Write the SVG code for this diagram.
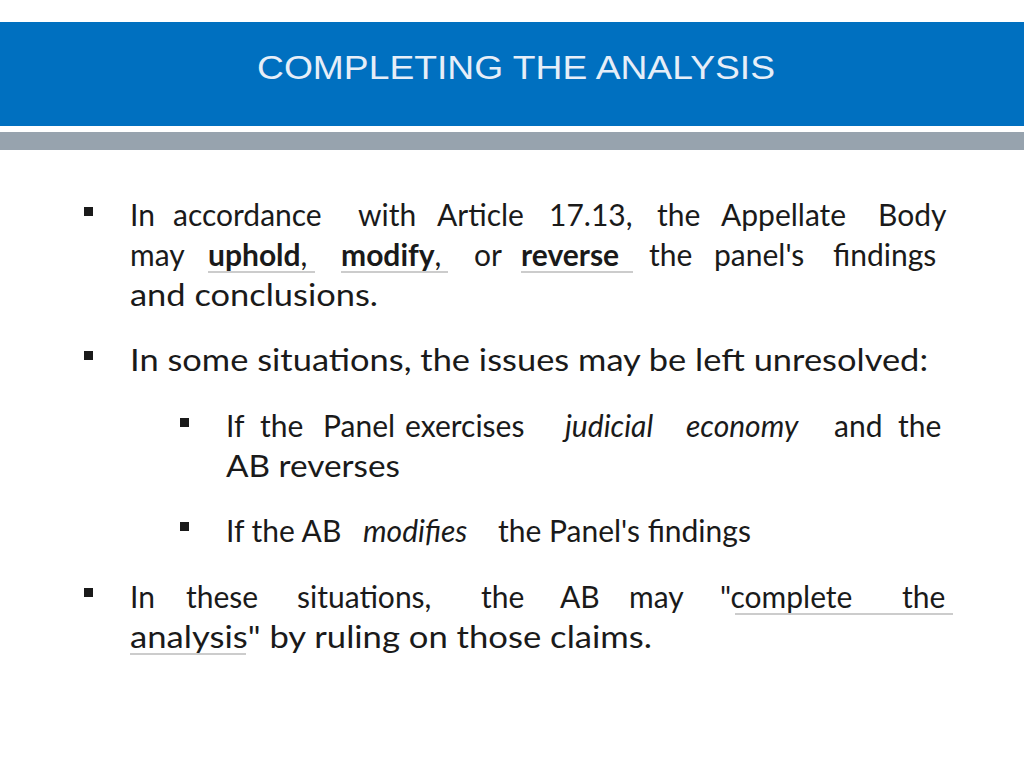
<svg xmlns="http://www.w3.org/2000/svg" width="1024" height="768" viewBox="0 0 1024 768">
<style>
.t{font-family:Lato,"Open Sans","Liberation Sans",sans-serif;font-size:30px;fill:#1a1a1a}
.b{font-weight:bold}
.i{font-style:italic}
.u{stroke:#9a9a9a;stroke-width:1.2}
</style>
<rect width="1024" height="768" fill="#fff"/>
<rect x="0" y="22" width="1024" height="104" fill="#0070C0"/>
<rect x="0" y="132" width="1024" height="18" fill="#97A3AE"/>
<text x="516" y="79" text-anchor="middle" font-family="'Liberation Sans',Arial,sans-serif" font-size="33" fill="#e6eef8" textLength="518" lengthAdjust="spacingAndGlyphs">COMPLETING THE ANALYSIS</text>
<g fill="#1a1a1a">
<rect x="84" y="207" width="9" height="9"/>
<rect x="84" y="351" width="9" height="9"/>
<rect x="180" y="418" width="9" height="9"/>
<rect x="180" y="522" width="9" height="9"/>
<rect x="84" y="588" width="9" height="9"/>
</g>
<g class="t">
<text y="226"><tspan x="130">In</tspan><tspan x="173">accordance</tspan><tspan x="358">with</tspan><tspan x="437">Article</tspan><tspan x="549">17.13,</tspan><tspan x="657">the</tspan><tspan x="721">Appellate</tspan><tspan x="878">Body</tspan></text>
<text y="266"><tspan x="130">may</tspan><tspan x="208" class="b">uphold</tspan><tspan>,</tspan><tspan x="341" class="b">modify</tspan><tspan>,</tspan><tspan x="474">or</tspan><tspan x="521" class="b">reverse</tspan><tspan x="649">the</tspan><tspan x="714">panel's</tspan><tspan x="833">findings</tspan></text>
<text x="130" y="306" textLength="248" lengthAdjust="spacingAndGlyphs">and conclusions.</text>
<text x="130" y="371" textLength="798" lengthAdjust="spacingAndGlyphs">In some situations, the issues may be left unresolved:</text>
<text y="437"><tspan x="226">If</tspan><tspan x="260">the</tspan><tspan x="323">Panel</tspan><tspan x="405">exercises</tspan><tspan x="565" class="i">judicial</tspan><tspan x="686" class="i">economy</tspan><tspan x="834">and</tspan><tspan x="898">the</tspan></text>
<text x="226" y="477" textLength="174" lengthAdjust="spacingAndGlyphs">AB reverses</text>
<text y="542"><tspan x="226">If the AB</tspan><tspan x="363" class="i">modifies</tspan><tspan x="498">the Panel's findings</tspan></text>
<text y="608"><tspan x="130">In</tspan><tspan x="186">these</tspan><tspan x="297">situations,</tspan><tspan x="481">the</tspan><tspan x="560">AB</tspan><tspan x="629">may</tspan><tspan x="720">"complete</tspan><tspan x="902">the</tspan></text>
<text x="130" y="648" textLength="522" lengthAdjust="spacingAndGlyphs">analysis" by ruling on those claims.</text>
</g>
<g class="u">
<line x1="208" y1="272" x2="315" y2="272"/>
<line x1="341" y1="272" x2="448" y2="272"/>
<line x1="521" y1="272" x2="633" y2="272"/>
<line x1="735" y1="614" x2="953" y2="614"/>
<line x1="130" y1="654" x2="246" y2="654"/>
</g>
</svg>
